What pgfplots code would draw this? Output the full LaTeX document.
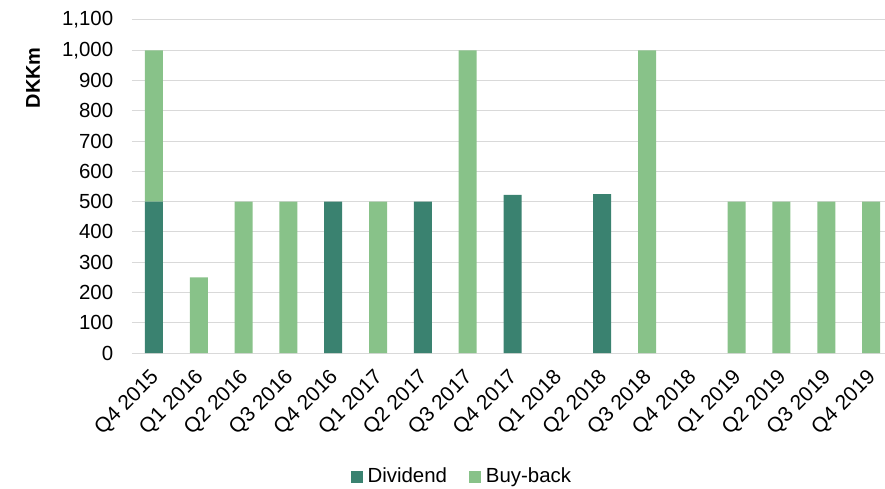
\documentclass[border=0pt]{standalone}
\usepackage{pgfplots}
\pgfplotsset{compat=1.18}
\usepackage{fontspec}
\setmainfont{Liberation Sans}
\definecolor{div}{HTML}{3A8270}
\definecolor{bb}{HTML}{88C289}
\definecolor{gridc}{HTML}{D9D9D9}
\begin{document}
\fontsize{20}{24}\selectfont
\begin{tikzpicture}
\begin{axis}[
  scale only axis,
  width=753bp, height=333bp,
  ybar stacked,
  bar width=18bp,
  xmin=-0.49, xmax=16.31,
  ymin=0, ymax=1100,
  ytick={0,100,...,1100},
  xtick={0,...,16},
  xticklabels={Q4 2015,Q1 2016,Q2 2016,Q3 2016,Q4 2016,Q1 2017,Q2 2017,Q3 2017,Q4 2017,Q1 2018,Q2 2018,Q3 2018,Q4 2018,Q1 2019,Q2 2019,Q3 2019,Q4 2019},
  xticklabel style={xshift=-5bp, yshift=-12bp, rotate=45, anchor=north east, inner sep=2bp, font=\fontsize{21}{24}\selectfont},
  yticklabel style={xshift=-12bp, font=\fontsize{20.5}{24}\selectfont},
  /pgf/number format/assume math mode=true,
  /pgf/number format/.cd, 1000 sep={,}, /pgfplots/.cd,
  axis line style={draw=none},
  major tick length=0pt,
  ymajorgrids,
  grid style={gridc, line width=1bp},
  ylabel={\bfseries DKKm},
  ylabel style={at={(axis description cs:-0.1315,0.826)}, anchor=center, font=\fontsize{20}{24}\selectfont},
  legend columns=2,
  legend style={at={(axis description cs:0.438,-0.372)}, anchor=center, draw=none, font=\fontsize{20.5}{24}\selectfont, /tikz/every even column/.append style={column sep=20bp}},
  legend image code/.code={\fill[#1] (0,-6bp) rectangle (12bp,6bp);},
  clip=false,
]
\addplot[fill=div, draw=none] coordinates {(0,500) (1,0) (2,0) (3,0) (4,500) (5,0) (6,500) (7,0) (8,522) (9,0) (10,525) (11,0) (12,0) (13,0) (14,0) (15,0) (16,0)};
\addplot[fill=bb, draw=none] coordinates {(0,500) (1,250) (2,500) (3,500) (4,0) (5,500) (6,0) (7,1000) (8,0) (9,0) (10,0) (11,1000) (12,0) (13,500) (14,500) (15,500) (16,500)};
\legend{\hspace{3bp}Dividend,\hspace{3bp}Buy-back}
\end{axis}
\pgfresetboundingbox
\path (-132bp,-136bp) rectangle (753bp,353bp);
\end{tikzpicture}
\end{document}
